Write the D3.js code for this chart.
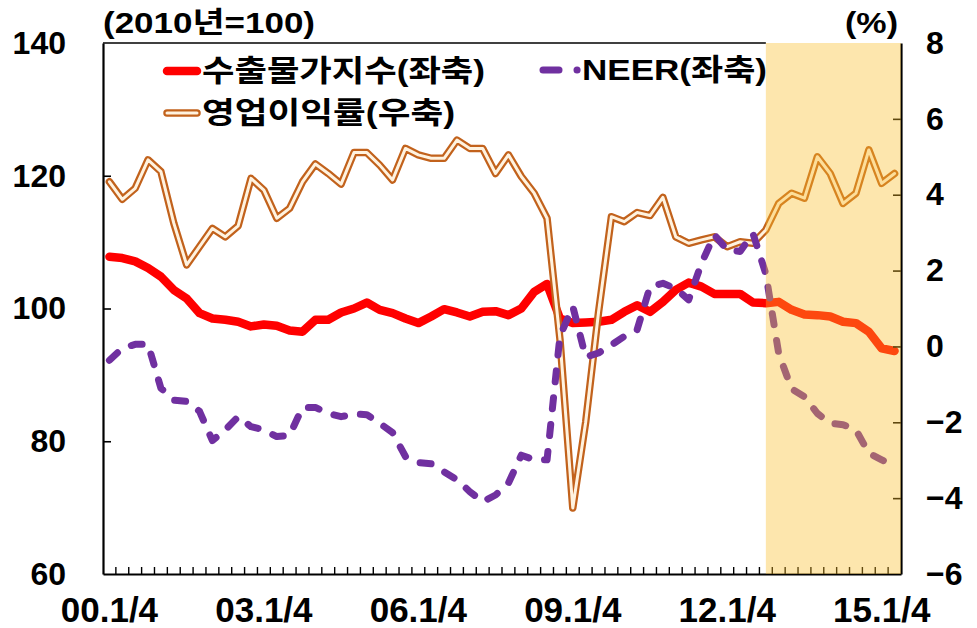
<!DOCTYPE html>
<html><head><meta charset="utf-8">
<script src="https://cdn.jsdelivr.net/npm/d3@7"></script>
<style>html,body{margin:0;padding:0;background:#fff}svg{display:block}</style>
</head><body><svg id="c" width="977" height="628"></svg>
<script>
// quarterly categories 2000 Q1 .. 2015 Q2
const categories = [];
for (let yr = 0; yr <= 15; yr++) for (let q = 1; q <= 4; q++) {
  if (categories.length < 62) categories.push(String(yr).padStart(2, '0') + '.' + q + '/4');
}
const xTickLabels = ["00.1/4", "03.1/4", "06.1/4", "09.1/4", "12.1/4", "15.1/4"];
const leftTicks = [60, 80, 100, 120, 140];
const rightTicks = [-6, -4, -2, 0, 2, 4, 6, 8];
const shadeFrom = "12.4/4";

// 수출물가지수 (left axis)
const exportPrice = [107.8,107.6,107.1,106.1,104.8,102.8,101.5,99.3,98.5,98.3,98.0,97.3,97.6,97.4,96.7,96.5,
  98.3,98.3,99.4,100.0,100.9,99.8,99.3,98.5,97.8,98.8,99.9,99.4,98.8,99.5,99.6,99.0,
  100.0,102.5,103.7,98.5,97.8,97.9,98.0,98.3,99.5,100.5,99.5,101.0,102.8,103.9,103.3,102.2,
  102.2,102.2,100.9,100.8,101.0,99.8,99.1,99.0,98.8,98.0,97.8,96.5,94.0,93.6];
// NEER (left axis)
const neer = [92.2,94.0,94.6,94.6,88.0,86.2,86.0,84.5,80.1,81.7,83.7,82.2,81.7,80.7,80.9,85.1,
  85.1,84.2,83.7,84.1,84.0,82.7,81.3,77.7,76.8,76.6,75.4,74.2,72.4,70.9,71.9,73.7,
  77.9,77.2,77.2,95.8,100.3,92.7,93.3,94.5,95.8,96.8,103.3,103.8,103.0,101.3,106.8,111.1,
  108.8,108.6,111.3,105.2,93.2,87.9,86.7,84.2,82.7,82.5,81.7,78.2,77.2,76.2];
// 영업이익률 (right axis, %)
const opMargin = [4.34,3.88,4.17,4.92,4.61,3.25,2.15,2.63,3.11,2.89,3.18,4.43,4.12,3.38,3.64,4.34,
  4.81,4.56,4.28,5.11,5.11,4.78,4.39,5.22,5.05,4.96,4.96,5.44,5.22,5.22,4.56,5.05,
  4.48,4.04,3.38,0.2,-4.26,-2.0,0.9,3.42,3.29,3.53,3.45,3.93,2.89,2.72,2.81,2.89,
  2.63,2.76,2.72,3.07,3.77,4.04,3.91,5.00,4.56,3.77,4.04,5.18,4.30,4.56];

const svg = d3.select('#c');
const m = {l: 103, r: 901, t: 43, b: 574};
const x = d3.scaleBand().domain(categories).range([m.l, m.r]);
const cx = d => x(d) + x.bandwidth() / 2;
const yL = d3.scaleLinear().domain([60, 140]).range([m.b, m.t]);
const yR = d3.scaleLinear().domain([-6, 8]).range([m.b, m.t]);
const LAT = "'Liberation Sans', Arial, sans-serif";
const KR = "'Liberation Sans', 'Noto Sans CJK KR', sans-serif";

// lines
const lineL = vals => d3.line().x((d, i) => cx(categories[i])).y(d => yL(d))(vals);
const lineR = vals => d3.line().x((d, i) => cx(categories[i])).y(d => yR(d))(vals);

svg.append('path').attr('d', lineL(exportPrice)).attr('fill', 'none')
  .attr('stroke', '#FF0000').attr('stroke-width', 8.5).attr('stroke-linejoin', 'round').attr('stroke-linecap', 'round');
svg.append('path').attr('d', lineR(opMargin)).attr('fill', 'none')
  .attr('stroke', '#C2621C').attr('stroke-width', 7.5).attr('stroke-linejoin', 'round').attr('stroke-linecap', 'round');
svg.append('path').attr('d', lineR(opMargin)).attr('fill', 'none')
  .attr('stroke', '#FFF3E0').attr('stroke-width', 3).attr('stroke-linejoin', 'round').attr('stroke-linecap', 'round');
svg.append('path').attr('d', lineL(neer)).attr('fill', 'none')
  .attr('stroke', '#7030A0').attr('stroke-width', 7).attr('stroke-linejoin', 'round').attr('stroke-linecap', 'round')
  .attr('stroke-dasharray', '11,16');

// axes
const gL = svg.append('g').attr('transform', `translate(${m.l},0)`)
  .call(d3.axisLeft(yL).tickValues(leftTicks).tickSizeInner(-8).tickSizeOuter(0).tickPadding(37));
const gR = svg.append('g').attr('transform', `translate(${m.r},0)`)
  .call(d3.axisRight(yR).tickValues(rightTicks).tickSizeInner(-8).tickSizeOuter(0).tickPadding(25));
const gB = svg.append('g').attr('transform', `translate(0,${m.b})`)
  .call(d3.axisBottom(x).tickValues(xTickLabels).tickSize(0).tickPadding(23));
[gL, gR, gB].forEach(g => {
  g.select('.domain').attr('stroke', '#000').attr('stroke-width', 2.2);
  g.selectAll('.tick line').attr('stroke', '#000').attr('stroke-width', 1.6);
  g.selectAll('text').attr('fill', '#000').attr('font-family', LAT).attr('font-weight', 'bold');
});
gL.selectAll('text').attr('font-size', 32);
gR.selectAll('text').attr('font-size', 32);
gB.selectAll('text').attr('font-size', 35);
gL.selectAll('.tick').filter(d => d === 60 || d === 140).select('line').remove();
gR.selectAll('.tick').filter(d => d === -6 || d === 8).select('line').remove();

// minor quarter ticks on the bottom axis
svg.append('g').selectAll('line').data(categories.slice(1)).join('line')
  .attr('x1', d => x(d)).attr('x2', d => x(d))
  .attr('y1', m.b).attr('y2', m.b - 7)
  .attr('stroke', '#000').attr('stroke-width', 1.4);

// top border (up to the shaded period)
svg.append('line').attr('x1', m.l).attr('x2', cx(shadeFrom)).attr('y1', m.t).attr('y2', m.t)
  .attr('stroke', '#000').attr('stroke-width', 1.6);

// shaded period overlay
svg.append('rect').attr('x', cx(shadeFrom)).attr('y', m.t)
  .attr('width', m.r - cx(shadeFrom)).attr('height', m.b - m.t)
  .attr('fill', 'rgb(250,190,40)').attr('fill-opacity', 0.38);

// unit labels
svg.append('text').attr('x', m.l).attr('y', 23).attr('dominant-baseline', 'central')
  .attr('font-family', KR).attr('font-weight', 'bold').attr('font-size', 29)
  .attr('textLength', 212).attr('lengthAdjust', 'spacingAndGlyphs').text('(2010년=100)');
svg.append('text').attr('x', 845).attr('y', 23).attr('dominant-baseline', 'central')
  .attr('font-family', KR).attr('font-weight', 'bold').attr('font-size', 29)
  .attr('textLength', 53).attr('lengthAdjust', 'spacingAndGlyphs').text('(%)');

// legend
const lg = svg.append('g');
lg.append('line').attr('x1', 167).attr('x2', 197).attr('y1', 71).attr('y2', 71)
  .attr('stroke', '#FF0000').attr('stroke-width', 8.5).attr('stroke-linecap', 'round');
lg.append('text').attr('x', 202).attr('y', 70).attr('dominant-baseline', 'central')
  .attr('font-family', KR).attr('font-weight', 'bold').attr('font-size', 30)
  .attr('textLength', 283).attr('lengthAdjust', 'spacingAndGlyphs').text('수출물가지수(좌축)');
lg.append('line').attr('x1', 543).attr('x2', 559).attr('y1', 70).attr('y2', 70)
  .attr('stroke', '#7030A0').attr('stroke-width', 7).attr('stroke-linecap', 'round');
lg.append('line').attr('x1', 577).attr('x2', 577.1).attr('y1', 70).attr('y2', 70)
  .attr('stroke', '#7030A0').attr('stroke-width', 7).attr('stroke-linecap', 'round');
lg.append('text').attr('x', 582).attr('y', 69).attr('dominant-baseline', 'central')
  .attr('font-family', KR).attr('font-weight', 'bold').attr('font-size', 30)
  .attr('textLength', 185).attr('lengthAdjust', 'spacingAndGlyphs').text('NEER(좌축)');
lg.append('line').attr('x1', 167).attr('x2', 197).attr('y1', 113).attr('y2', 113)
  .attr('stroke', '#C2621C').attr('stroke-width', 7.5).attr('stroke-linecap', 'round');
lg.append('line').attr('x1', 167).attr('x2', 197).attr('y1', 113).attr('y2', 113)
  .attr('stroke', '#FFF3E0').attr('stroke-width', 3).attr('stroke-linecap', 'round');
lg.append('text').attr('x', 202).attr('y', 112).attr('dominant-baseline', 'central')
  .attr('font-family', KR).attr('font-weight', 'bold').attr('font-size', 30)
  .attr('textLength', 253).attr('lengthAdjust', 'spacingAndGlyphs').text('영업이익률(우축)');
</script></body></html>
